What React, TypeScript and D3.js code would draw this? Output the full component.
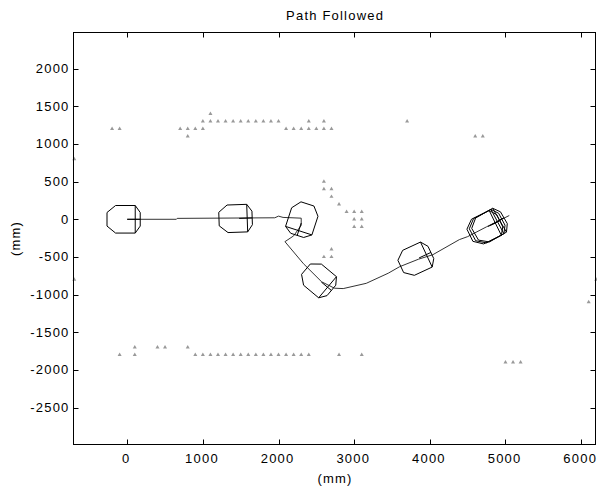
import React from "react";
import * as d3 from "d3";

// Obstacle points (mm)
const obsX = [
  -200, -100, 700, 800, 900, 1000, 800,
  1000, 1100, 1200, 1300, 1100,
  1400, 1500, 1600, 1700, 1800, 1900, 2000, 2400, 2600,
  2100, 2200, 2300, 2400, 2500, 2600, 2700,
  3700, 4600, 4700,
  2600, 2600, 2700, 2700, 2800, 2900, 3000, 3100, 3000, 3100, 3000, 3100, 2700, 2600, 2700,
  -700, -700, 6200, 6100,
  -100, 100, 100, 400, 500, 800,
  900, 1000, 1100, 1200, 1300, 1400, 1500, 1600, 1700, 1800, 1900, 2000, 2100, 2200, 2300, 2400,
  2800, 3100, 5000, 5100, 5200,
];
const obsY = [
  1200, 1200, 1200, 1200, 1200, 1200, 1100,
  1300, 1300, 1300, 1300, 1400,
  1300, 1300, 1300, 1300, 1300, 1300, 1300, 1300, 1300,
  1200, 1200, 1200, 1200, 1200, 1200, 1200,
  1300, 1100, 1100,
  500, 400, 400, 300, 200, 100, 100, 100, 0, 0, -100, -100, -400, -500, -500,
  800, -800, -800, -1100,
  -1800, -1800, -1700, -1700, -1700, -1700,
  -1800, -1800, -1800, -1800, -1800, -1800, -1800, -1800, -1800, -1800, -1800, -1800, -1800, -1800, -1800, -1800,
  -1800, -1800, -1900, -1900, -1900,
];

// Path followed (mm)
const pathX = [0, 650, 660, 1950, 2000, 2060, 2300, 2300, 2200, 2085, 2330, 2570, 2740, 2855, 3160, 3450, 3600, 3850, 4040, 4390, 4500, 4750, 5050];
const pathY = [0, 0, 12, 20, 42, 25, 15, -80, -220, -297, -590, -830, -915, -920, -850, -716, -630, -530, -470, -270, -230, -100, 50];

// Robot poses (mm, degrees)
const poseX = [0, 1480, 2300, 2567, 3858, 4770, 4800, 4830];
const poseY = [0, 12, -50, -834, -513, -95, -80, -65];
const poseTheta = [0, 2, -108, -40, 25, 26, 28, 30];

const xTicks = [0, 1000, 2000, 3000, 4000, 5000, 6000];
const yTicks = [-2500, -2000, -1500, -1000, -500, 0, 500, 1000, 1500, 2000];

// robot outline (local frame, mm)
const bodyX = [-154, 106, 172, 172, 106, -154, -267, -267];
const bodyY = [183, 183, 90, -90, -183, -183, -90, 90];
const frontX = 106;
const noseX = 172;

const W = 597;
const H = 490;
const L = 73.5, R = 595.5, T = 32.5, B = 444.5;

export default function App() {
  const x = d3.scaleLinear().domain([-710, 6190]).range([L, R]);
  const y = d3.scaleLinear().domain([-2990, 2480]).range([B, T]);

  const tf = (px: number, py: number, th: number, lx: number, ly: number): [number, number] => {
    const a = (th * Math.PI) / 180;
    const X = px + lx * Math.cos(a) - ly * Math.sin(a);
    const Y = py + lx * Math.sin(a) + ly * Math.cos(a);
    return [x(X), y(Y)];
  };

  const line = d3.line<[number, number]>();
  const pathPts: [number, number][] = pathX.map((v, i) => [x(v), y(pathY[i])]);
  const tri = d3.symbol().type(d3.symbolTriangle).size(7)();

  const font = "'Liberation Sans', Arial, sans-serif";
  const fs = 13;
  const ls = 1.2;

  return (
    <svg width={W} height={H} style={{ position: "absolute", left: 0, top: 0, background: "#fff" }}>
      <rect x={0} y={0} width={W} height={H} fill="#fff" />
      {/* obstacles */}
      <g fill="#999">
        {obsX.map((v, i) => (
          <path key={i} d={tri as string} transform={`translate(${x(v)},${y(obsY[i])})`} />
        ))}
      </g>
      {/* path */}
      <path d={line(pathPts) as string} fill="none" stroke="#333" strokeWidth={1} />
      {/* robots */}
      <g fill="none" stroke="#000" strokeWidth={1}>
        {poseX.map((px, i) => {
          const py = poseY[i];
          const th = poseTheta[i];
          const pts = bodyX.map((bx, j) => tf(px, py, th, bx, bodyY[j]));
          const poly = d3.line<[number, number]>()([...pts, pts[0]]) as string;
          const f1 = tf(px, py, th, frontX, 183);
          const f2 = tf(px, py, th, frontX, -183);
          const c0 = tf(px, py, th, 0, 0);
          const c1 = tf(px, py, th, noseX, 0);
          return (
            <g key={i}>
              <path d={poly} />
              <line x1={f1[0]} y1={f1[1]} x2={f2[0]} y2={f2[1]} />
              <line x1={c0[0]} y1={c0[1]} x2={c1[0]} y2={c1[1]} />
            </g>
          );
        })}
      </g>
      {/* axes box */}
      <rect x={L} y={T} width={R - L} height={B - T} fill="none" stroke="#000" strokeWidth={1} />
      <g stroke="#000" strokeWidth={1}>
        {xTicks.map((t) => (
          <g key={t}>
            <line x1={Math.round(x(t)) + 0.5} x2={Math.round(x(t)) + 0.5} y1={B} y2={B - 5} />
            <line x1={Math.round(x(t)) + 0.5} x2={Math.round(x(t)) + 0.5} y1={T} y2={T + 5} />
          </g>
        ))}
        {yTicks.map((t) => (
          <g key={t}>
            <line y1={Math.round(y(t)) + 0.5} y2={Math.round(y(t)) + 0.5} x1={L} x2={L + 5} />
            <line y1={Math.round(y(t)) + 0.5} y2={Math.round(y(t)) + 0.5} x1={R} x2={R - 5} />
          </g>
        ))}
      </g>
      <g fontFamily={font} fontSize={fs} fill="#000" letterSpacing={ls}>
        {xTicks.map((t) => (
          <text key={t} x={x(t) - 1.5 + ls / 2} y={463} textAnchor="middle">{t}</text>
        ))}
        {yTicks.map((t) => (
          <text key={t} x={L - 4} y={y(t) + 4.5} textAnchor="end">{t}</text>
        ))}
        <text x={(L + R) / 2 + ls / 2} y={20} textAnchor="middle">Path Followed</text>
        <text x={(L + R) / 2 + ls / 2} y={483} textAnchor="middle">(mm)</text>
        <text transform={`translate(20,${(T + B) / 2}) rotate(-90)`} textAnchor="middle">(mm)</text>
      </g>
    </svg>
  );
}
